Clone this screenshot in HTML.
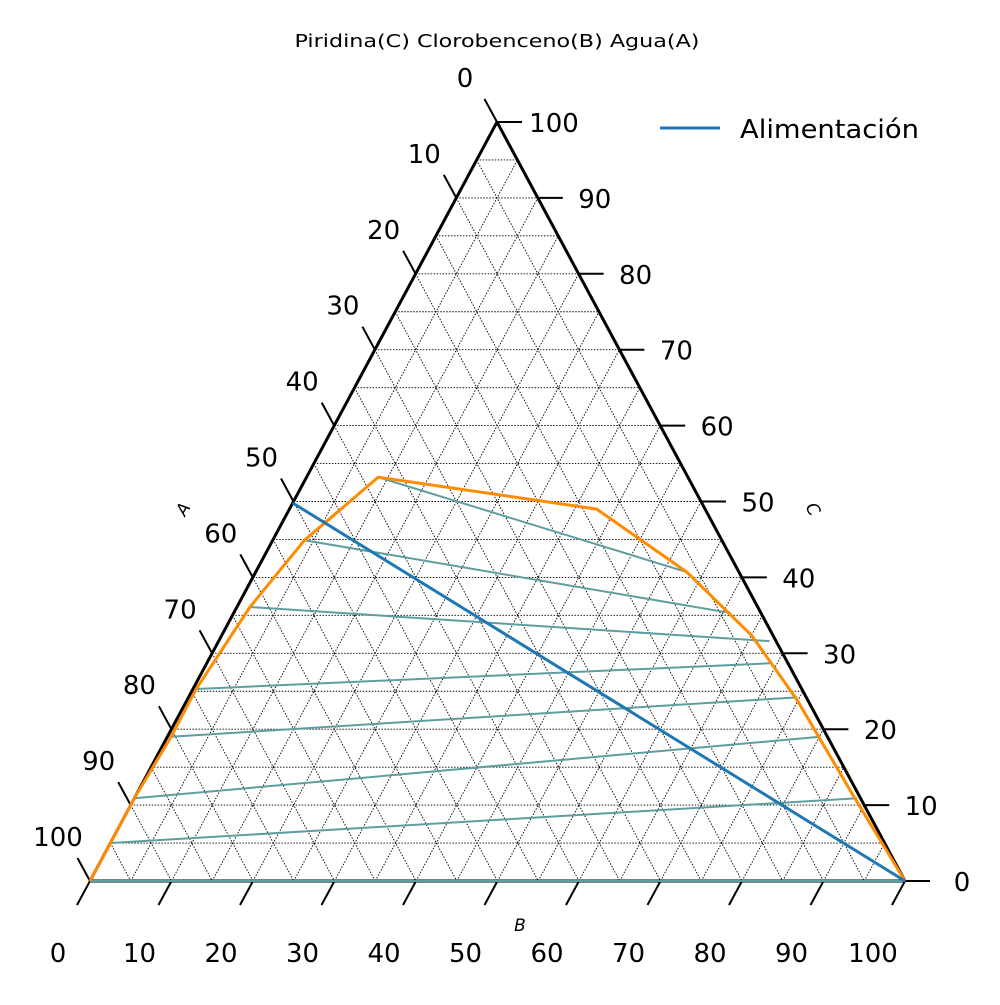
<!DOCTYPE html>
<html><head><meta charset="utf-8"><style>
body{margin:0;background:#fff}
svg{font-family:"DejaVu Sans","Liberation Sans",sans-serif}
</style></head><body>
<svg id="chart" width="1000" height="1000" viewBox="0 0 1000 1000">
<text x="497" y="47" font-size="18" text-anchor="middle" textLength="405" lengthAdjust="spacingAndGlyphs">Piridina(C) Clorobenceno(B) Agua(A)</text>
<g id="grid"></g>
<g id="axes"></g>
<g id="series"></g>
<text x="188" y="512" font-size="17" font-style="italic" transform="rotate(-60 188 512)" text-anchor="middle">A</text>
<text x="808" y="512" font-size="17" font-style="italic" transform="rotate(60 808 512)" text-anchor="middle">C</text>
<text x="520" y="931" font-size="17" font-style="italic" text-anchor="middle">B</text>
<g>
<line x1="660" y1="128" x2="720" y2="128" stroke="#1f77b4" stroke-width="3"/>
<text x="740" y="138" font-size="26" textLength="179" lengthAdjust="spacingAndGlyphs">Alimentación</text>
</g>
</svg>
<script>
// Ternary data: [B, C] (A = 100 - B - C)
const binodalB = [0, 0, 0, 0.45, 0.4, 1.6, 3.9, 8.8, 37.7, 52.9, 65.1, 74.9, 88.4, 100];
const binodalC = [0, 5, 10.9, 19, 25.3, 36.1, 44.9, 53.2, 49, 40.7, 32.3, 23.8, 10.9, 0];
const tieLeftB = [8.8, 3.9, 1.6, 0.4, 0.45, 0, 0, 0];
const tieLeftC = [53.2, 44.9, 36.1, 25.3, 19, 10.9, 5, 0];
const tieRightB = [52.9, 61.0, 67.6, 69.4, 74.7, 80.1, 88.7, 100];
const tieRightC = [40.7, 35.3, 31.6, 28.7, 24.2, 19, 10.9, 0];
const feedB = [0, 100];
const feedC = [49.8, 0];
const tickValues = [0,10,20,30,40,50,60,70,80,90,100];

const BL=[90,881], BR=[905,881], TP=[497,122];
function P(b,c){const a=100-b-c;return [(a*BL[0]+b*BR[0]+c*TP[0])/100,(a*BL[1]+b*BR[1]+c*TP[1])/100];}
const NS="http://www.w3.org/2000/svg";
function mk(tag,attrs,parent){const e=document.createElementNS(NS,tag);for(const k in attrs)e.setAttribute(k,attrs[k]);parent.appendChild(e);return e;}
const grid=document.getElementById('grid'),axes=document.getElementById('axes'),series=document.getElementById('series');

for(let v=5;v<100;v+=5){
  const segs=[[P(0,v),P(100-v,v)],[P(v,0),P(v,100-v)],[P(0,100-v),P(100-v,0)]];
  segs.forEach(s=>{
    const l=mk('line',{x1:s[0][0],y1:s[0][1],x2:s[1][0],y2:s[1][1],stroke:'#000','stroke-width':0.9,'stroke-dasharray':'1.5,1.5'},grid);
    
    
  });
}
[[BL,TP,'left-edge'],[TP,BR,'right-edge'],[BL,BR,'bottom-edge']].forEach(e=>{
  const l=mk('line',{x1:e[0][0],y1:e[0][1],x2:e[1][0],y2:e[1][1],stroke:'#000','stroke-width':3},axes);
  
  
});
tickValues.forEach(v=>{
  let p=P(100-v,v);
  let t=mk('line',{x1:p[0],y1:p[1],x2:p[0]+25,y2:p[1],stroke:'#000','stroke-width':2},axes);
  
  
  let tx=mk('text',{x:p[0]+57,y:p[1]+10,'font-size':26,'text-anchor':'middle'},axes);tx.textContent=v;
  
  
  p=P(0,100-v);
  t=mk('line',{x1:p[0],y1:p[1],x2:p[0]-12.5,y2:p[1]-23,stroke:'#000','stroke-width':2},axes);
  
  
  tx=mk('text',{x:p[0]-32,y:p[1]-35,'font-size':26,'text-anchor':'middle'},axes);tx.textContent=v;
  
  
  p=P(v,0);
  t=mk('line',{x1:p[0],y1:p[1],x2:p[0]-13,y2:p[1]+24,stroke:'#000','stroke-width':2},axes);
  
  
  tx=mk('text',{x:p[0]-32,y:p[1]+81,'font-size':26,'text-anchor':'middle'},axes);tx.textContent=v;
  
  
});
for(let i=0;i<tieLeftB.length;i++){
  const a=P(tieLeftB[i],tieLeftC[i]),b=P(tieRightB[i],tieRightC[i]);
  const l=mk('line',{x1:a[0],y1:a[1],x2:b[0],y2:b[1],stroke:'#5f9ea0','stroke-width':2},series);
  
  
}
const bp=binodalB.map((b,i)=>P(b,binodalC[i]).join(',')).join(' ');
const bl=mk('polyline',{points:bp,fill:'none',stroke:'#ff8c00','stroke-width':3},series);


const fp=feedB.map((b,i)=>P(b,feedC[i]).join(',')).join(' ');
const fl=mk('polyline',{points:fp,fill:'none',stroke:'#1f77b4','stroke-width':3},series);


</script>
</body></html>
